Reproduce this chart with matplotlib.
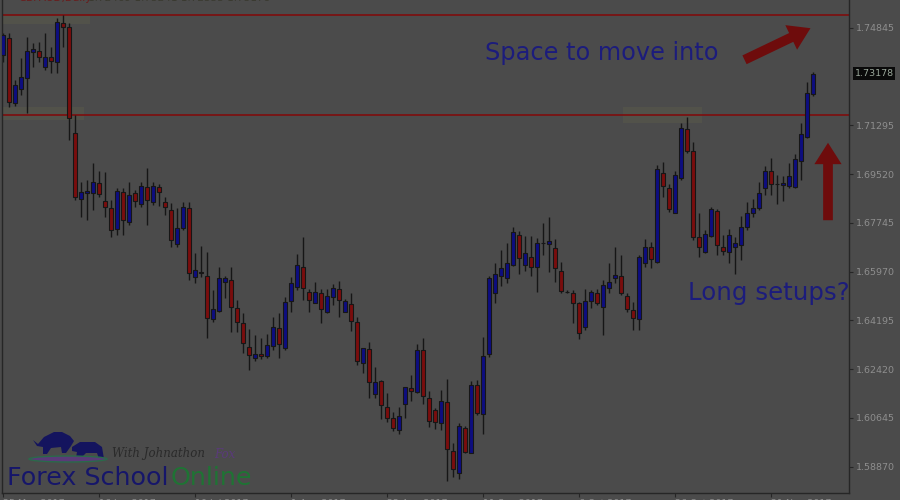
import matplotlib
matplotlib.use("Agg")
import matplotlib.pyplot as plt
from matplotlib.patches import Polygon, Ellipse, Rectangle, FancyArrowPatch

# GBPAUD daily candles
opens = [1.7386, 1.7448, 1.7211, 1.7262, 1.7302, 1.7397, 1.7400, 1.7342, 1.7379, 1.7360,
         1.7502, 1.7488, 1.7102, 1.6862, 1.6884, 1.6884, 1.6920, 1.6854, 1.6829, 1.6752,
         1.6887, 1.6778, 1.6884, 1.6843, 1.6905, 1.6851, 1.6905, 1.6851, 1.6822, 1.6698,
         1.6756, 1.6829, 1.6578, 1.6596, 1.6581, 1.6425, 1.6454, 1.6560, 1.6567, 1.6465,
         1.6410, 1.6323, 1.6283, 1.6297, 1.6290, 1.6327, 1.6392, 1.6319, 1.6490, 1.6541,
         1.6614, 1.6523, 1.6483, 1.6519, 1.6450, 1.6505, 1.6534, 1.6450, 1.6479, 1.6414,
         1.6265, 1.6316, 1.6152, 1.6199, 1.6105, 1.6065, 1.6021, 1.6115, 1.6174, 1.6159,
         1.6312, 1.6137, 1.6094, 1.6046, 1.6123, 1.5944, 1.5864, 1.6028, 1.5937, 1.6185,
         1.6079, 1.6297, 1.6519, 1.6581, 1.6574, 1.6621, 1.6731, 1.6621, 1.6650, 1.6614,
         1.6702, 1.6698, 1.6683, 1.6600, 1.6523, 1.6519, 1.6483, 1.6396, 1.6490, 1.6519,
         1.6469, 1.6538, 1.6574, 1.6581, 1.6509, 1.6458, 1.6425, 1.6629, 1.6687, 1.6632,
         1.6956, 1.6902, 1.6811, 1.6938, 1.7116, 1.7036, 1.6723, 1.6669, 1.6727, 1.6818,
         1.6687, 1.6669, 1.6687, 1.6694, 1.6760, 1.6811, 1.6829, 1.6902, 1.6964, 1.6916,
         1.6913, 1.6909, 1.6905, 1.7000, 1.7087, 1.7244]
highs = [1.7466, 1.7466, 1.7295, 1.7375, 1.7451, 1.7430, 1.7433, 1.7466, 1.7415, 1.7520,
         1.7531, 1.7502, 1.7167, 1.6924, 1.6931, 1.6993, 1.6964, 1.6960, 1.6858, 1.6902,
         1.6902, 1.6924, 1.6894, 1.6924, 1.6974, 1.6924, 1.6916, 1.6869, 1.6847, 1.6829,
         1.6851, 1.6851, 1.6665, 1.6691, 1.6669, 1.6530, 1.6614, 1.6581, 1.6614, 1.6494,
         1.6447, 1.6388, 1.6367, 1.6356, 1.6370, 1.6432, 1.6447, 1.6505, 1.6578, 1.6661,
         1.6723, 1.6534, 1.6560, 1.6534, 1.6534, 1.6552, 1.6563, 1.6498, 1.6519, 1.6432,
         1.6319, 1.6341, 1.6250, 1.6203, 1.6155, 1.6086, 1.6105, 1.6177, 1.6221, 1.6334,
         1.6356, 1.6163, 1.6101, 1.6166, 1.6206, 1.5974, 1.6046, 1.6035, 1.6199, 1.6203,
         1.6359, 1.6581, 1.6629, 1.6676, 1.6702, 1.6760, 1.6745, 1.6727, 1.6727, 1.6720,
         1.6774, 1.6796, 1.6716, 1.6632, 1.6530, 1.6530, 1.6487, 1.6534, 1.6530, 1.6534,
         1.6567, 1.6629, 1.6687, 1.6658, 1.6519, 1.6487, 1.6658, 1.6716, 1.6705, 1.6985,
         1.6996, 1.6916, 1.6964, 1.7138, 1.7160, 1.7069, 1.6811, 1.6749, 1.6833, 1.6825,
         1.6731, 1.6752, 1.6723, 1.6800, 1.6851, 1.6862, 1.6924, 1.6982, 1.7011, 1.6949,
         1.6945, 1.6993, 1.7025, 1.7138, 1.7288, 1.7324]
lows = [1.7360, 1.7197, 1.7200, 1.7240, 1.7175, 1.7342, 1.7360, 1.7331, 1.7320, 1.7320,
        1.7415, 1.7076, 1.6858, 1.6796, 1.6785, 1.6822, 1.6869, 1.6796, 1.6723, 1.6731,
        1.6731, 1.6767, 1.6833, 1.6833, 1.6767, 1.6840, 1.6836, 1.6803, 1.6687, 1.6687,
        1.6749, 1.6567, 1.6556, 1.6578, 1.6356, 1.6414, 1.6450, 1.6501, 1.6377, 1.6377,
        1.6301, 1.6239, 1.6272, 1.6279, 1.6283, 1.6312, 1.6283, 1.6312, 1.6450, 1.6530,
        1.6494, 1.6450, 1.6483, 1.6410, 1.6447, 1.6476, 1.6432, 1.6450, 1.6381, 1.6257,
        1.6228, 1.6137, 1.6137, 1.6061, 1.6050, 1.6017, 1.6006, 1.6065, 1.6126, 1.6155,
        1.6115, 1.6032, 1.6024, 1.6021, 1.5835, 1.5850, 1.5842, 1.5937, 1.5937, 1.6075,
        1.6006, 1.6287, 1.6483, 1.6545, 1.6556, 1.6618, 1.6589, 1.6600, 1.6581, 1.6523,
        1.6658, 1.6596, 1.6560, 1.6519, 1.6519, 1.6410, 1.6352, 1.6385, 1.6465, 1.6476,
        1.6367, 1.6519, 1.6556, 1.6512, 1.6450, 1.6385, 1.6385, 1.6614, 1.6611, 1.6629,
        1.6869, 1.6814, 1.6811, 1.6931, 1.7029, 1.6712, 1.6650, 1.6665, 1.6723, 1.6658,
        1.6658, 1.6629, 1.6589, 1.6640, 1.6749, 1.6796, 1.6822, 1.6876, 1.6876, 1.6843,
        1.6854, 1.6902, 1.6902, 1.6931, 1.7084, 1.7237]
closes = [1.7459, 1.7215, 1.7277, 1.7306, 1.7400, 1.7408, 1.7379, 1.7379, 1.7364, 1.7506,
          1.7488, 1.7157, 1.6869, 1.6887, 1.6891, 1.6924, 1.6880, 1.6833, 1.6749, 1.6891,
          1.6785, 1.6876, 1.6854, 1.6909, 1.6858, 1.6909, 1.6887, 1.6833, 1.6712, 1.6756,
          1.6833, 1.6592, 1.6603, 1.6592, 1.6429, 1.6461, 1.6574, 1.6574, 1.6469, 1.6414,
          1.6337, 1.6294, 1.6297, 1.6290, 1.6330, 1.6396, 1.6334, 1.6487, 1.6556, 1.6621,
          1.6538, 1.6494, 1.6523, 1.6461, 1.6509, 1.6538, 1.6494, 1.6490, 1.6418, 1.6272,
          1.6319, 1.6196, 1.6196, 1.6112, 1.6065, 1.6028, 1.6072, 1.6177, 1.6163, 1.6312,
          1.6145, 1.6054, 1.6050, 1.6126, 1.5952, 1.5879, 1.6035, 1.5941, 1.6185, 1.6083,
          1.6290, 1.6574, 1.6589, 1.6611, 1.6629, 1.6742, 1.6647, 1.6665, 1.6614, 1.6702,
          1.6702, 1.6709, 1.6611, 1.6527, 1.6523, 1.6483, 1.6374, 1.6490, 1.6523, 1.6483,
          1.6549, 1.6560, 1.6585, 1.6519, 1.6461, 1.6429, 1.6650, 1.6687, 1.6643, 1.6971,
          1.6909, 1.6825, 1.6949, 1.7120, 1.7036, 1.6723, 1.6687, 1.6734, 1.6825, 1.6694,
          1.6672, 1.6731, 1.6702, 1.6760, 1.6811, 1.6829, 1.6884, 1.6964, 1.6916, 1.6916,
          1.6920, 1.6945, 1.7007, 1.7098, 1.7248, 1.73178]

price_ticks = [1.58870, 1.60645, 1.62420, 1.64195, 1.65970, 1.67745, 1.69520, 1.71295, 1.74845]
date_ticks = [0, 16, 32, 48, 64, 80, 96, 112, 128]
date_labels = ["25 May 2017", "16 Jun 2017", "10 Jul 2017", "1 Aug 2017", "22 Aug 2017",
               "11 Sep 2017", "6 Oct 2017", "26 Oct 2017", "21 Nov 2017"]
resistance = 1.7531
support = 1.7168
last_price = 1.73178

BG = "#4b4b4b"
BULL = "#0d0d80"
BEAR = "#7a0d0d"
WICK = "#161616"
TXT = "#1c1c7c"
ARROW = "#6e0c0c"

W, H = 900, 500
fig = plt.figure(figsize=(9, 5), dpi=100, facecolor=BG)
ax = fig.add_axes([2 / W, 7 / H, 847 / W, 493 / H], facecolor=BG)

ax.set_xlim(-0.12, 141.05)
ax.set_ylim(1.57915, 1.7586)

x = list(range(len(opens)))
ax.vlines(x, lows, highs, color=WICK, lw=1, zorder=2)
for i in x:
    o, c = opens[i], closes[i]
    col = BULL if c >= o else BEAR
    lo, hi = min(o, c), max(o, c)
    ax.bar(i, max(hi - lo, 0.00005), bottom=lo, width=0.72, color=col,
           edgecolor=WICK, linewidth=0.8, zorder=3)

# key levels and faint zones
ax.axhline(resistance, color="#7a1212", lw=1.3, zorder=1)
ax.axhline(support, color="#7a1212", lw=1.3, zorder=1)
ax.add_patch(Rectangle((-0.12, 1.7500), 14.6, 0.0030, color="#6a6a4a", alpha=0.25, lw=0, zorder=0))
ax.add_patch(Rectangle((-0.12, 1.7148), 13.6, 0.0047, color="#6a6a4a", alpha=0.25, lw=0, zorder=0))
ax.add_patch(Rectangle((103.3, 1.7138), 13.2, 0.0058, color="#6a6a4a", alpha=0.25, lw=0, zorder=0))

# axes styling
ax.spines["top"].set_visible(False)
for s in ["left", "right", "bottom"]:
    ax.spines[s].set_color("#262626")
    ax.spines[s].set_linewidth(1)

ax.yaxis.tick_right()
ax.set_yticks(price_ticks)
ax.set_yticklabels([f"{p:.5f}" for p in price_ticks])
ax.tick_params(axis="y", direction="out", length=3, pad=2, colors="#262626",
               labelcolor="#8e8e8e", labelsize=6.8)
# date labels sit below the visible area, only their tops show (as in the source)
ax.set_xticks(date_ticks)
ax.set_xticklabels(date_labels, ha="left")
ax.tick_params(axis="x", direction="out", length=3, pad=1, colors="#262626",
               labelcolor="#8e8e8e", labelsize=6.8)

# current price box
ax.annotate(f"{last_price:.5f}", xy=(1.0, last_price), xycoords=("axes fraction", "data"),
            xytext=(4, 0), textcoords="offset points", va="center", ha="left",
            fontsize=6.8, color="#9aa79a", annotation_clip=False,
            bbox=dict(boxstyle="square,pad=0.18", fc="#0a0a0a", ec="none"))

# header, mostly cut off at top edge
fig.text(18 / W, 1.004, "GBPAUD,Daily", color="#6a1c1c", fontsize=7.5, va="center")
fig.text(88 / W, 1.004, "1.72469 1.73241 1.72355 1.73178", color="#3a3a30",
         fontsize=7.5, va="center")

# annotations
fig.text(485 / W, 1 - 53 / H, "Space to move into", color=TXT, fontsize=17.3, va="center")
fig.text(688 / W, 1 - 293 / H, "Long setups?", color=TXT, fontsize=17.6, va="center")
ap = dict(arrowstyle="simple,head_length=1.1,head_width=1.4,tail_width=0.5",
          color=ARROW, lw=0)
fig.patches.append(FancyArrowPatch((742, H - 61), (813, H - 27), transform=None,
                                   mutation_scale=14, **ap))
fig.patches.append(FancyArrowPatch((828, H - 223), (828, H - 140), transform=None,
                                   mutation_scale=14, **ap))

# logo
bull = [(33, 440), (38, 444), (44, 437), (54, 432), (62, 432), (70, 436), (74, 441),
        (71, 446), (66, 453), (62, 453), (61, 447), (51, 448), (47, 454), (43, 454),
        (43, 447), (37, 446)]
bear = [(72, 447), (80, 442), (95, 442), (102, 447), (104, 459), (99, 459), (97, 453),
        (86, 453), (81, 458), (76, 458), (77, 452), (72, 451)]
for pts in (bull, bear):
    fig.patches.append(Polygon([(px, H - py) for px, py in pts], closed=True,
                               transform=None, fc="#14145e", ec="none"))
fig.patches.append(Ellipse((68, H - 459), 78, 6, transform=None, fc="#5a3a78",
                           ec="#2a6a4a", lw=1))
fig.text(112 / W, 1 - 454 / H, "With Johnathon", color="#2a2a2a", fontsize=8.5,
         style="italic", family="DejaVu Serif", va="center")
fig.text(214 / W, 1 - 454 / H, "Fox", color="#5a3a7a", fontsize=8.5,
         style="italic", family="DejaVu Serif", va="center")
fig.text(7 / W, 1 - 478 / H, "Forex School", color="#16166a", fontsize=18.3, va="center")
fig.text(171 / W, 1 - 478 / H, "Online", color="#1f7334", fontsize=18.3, va="center")

fig.savefig("out.png", dpi=100, facecolor=BG)
